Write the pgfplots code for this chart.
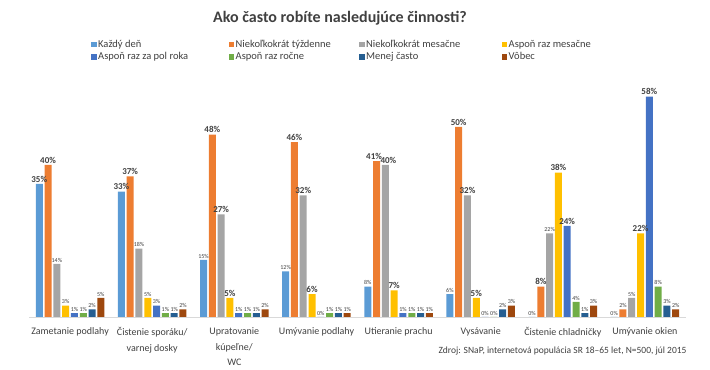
\documentclass[border=0pt]{standalone}
\usepackage{pgfplots}
\pgfplotsset{compat=1.18}
\usepackage{pgfplotstable}
\usepackage{fontspec}
\setmainfont{Carlito}
\definecolor{c1}{HTML}{5B9BD5}
\definecolor{c2}{HTML}{ED7D31}
\definecolor{c3}{HTML}{A5A5A5}
\definecolor{c4}{HTML}{FFC000}
\definecolor{c5}{HTML}{4472C4}
\definecolor{c6}{HTML}{70AD47}
\definecolor{c7}{HTML}{255E91}
\definecolor{c8}{HTML}{9E480E}
\definecolor{lbl}{HTML}{404040}
\pgfplotstableread{
x a fa b fb c fc d fd e fe f ff g fg h fh sb sc
0 35 1 40 1 14 0 3 0 1 0 1 0 2 0 5 0 0 0
1 33 1 37 1 18 0 5 0 3 0 1 0 1 0 2 0 0 0
2 15 0 48 1 27 1 5 1 1 0 1 0 1 0 2 0 0 0
3 12 0 46 1 32 1 6 1 0 0 1 0 1 0 1 0 0 0
4 8 0 41 1 40 1 7 1 1 0 1 0 1 0 1 0 -2.5 3
5 6 0 50 1 32 1 5 1 0 0 0 0 2 0 3 0 0 0
6 0 0 8 1 22 0 38 1 24 1 4 0 1 0 3 0 0 0
7 0 0 2 0 5 0 22 1 58 1 8 0 3 0 2 0 0 0
}\data
\begin{document}
\begin{tikzpicture}
\path (0,0) rectangle (710pt,366pt);
\node[font=\bfseries\fontsize{16}{18}\selectfont, text=lbl] at (340pt,348pt) {Ako často robíte nasledujúce činnosti?};
\node[font=\fontsize{9.5}{11}\selectfont, text=lbl, anchor=east] at (690pt,15pt) {Zdroj: SNaP, internetová populácia SR 18–65 let, N=500, júl 2015};
\begin{axis}[
  at={(29pt,49pt)}, anchor=south west,
  scale only axis, width=657pt, height=228pt,
  xmin=-0.5, xmax=7.5, ymin=0, ymax=60,
  ybar=1.8pt, bar width=7pt,
  clip=false,
  axis y line=none,
  axis x line*=bottom,
  x axis line style={-, draw=black!15},
  xtick=data,
  xtick style={draw=none},
  xticklabels={Zametanie podlahy, {Čistenie sporáku/\\varnej dosky}, {Upratovanie\\kúpeľne/\\WC}, Umývanie podlahy, Utieranie prachu, Vysávanie, Čistenie chladničky, Umývanie okien},
  xticklabel style={align=center, font=\fontsize{10}{15.5}\selectfont, text=lbl, yshift=-3pt},
  /pgf/number format/assume math mode=true,
  nodes near coords={\pgfmathprintnumber{\pgfplotspointmeta}\%},
  every node near coord/.append style={font=\ifdim\lsz pt>0.5pt\bfseries\fontsize{9}{10}\selectfont\else\fontsize{6}{7}\selectfont\fi, text=lbl, inner sep=1.5pt},
  legend columns=4,
  legend cell align=left,
  legend style={draw=none, at={(0.0898,1.2325)}, anchor=north west, font=\fontsize{10.5}{12}\selectfont, text=lbl,
    nodes={inner sep=1.5pt, text height=7.5pt, text depth=2pt}, /tikz/every even column/.append style={column sep=0pt}},
  legend image code/.code={\fill[#1,draw=none] (0pt,-2.6pt) rectangle (5.5pt,2.9pt);},
]
\addplot[fill=c1, draw=none, visualization depends on={\thisrow{fa}\as\lsz}] table[x=x,y=a]{\data};
\addlegendentry{\makebox[129pt][l]{Každý deň}}
\addplot[fill=c2, draw=none, visualization depends on={\thisrow{fb}\as\lsz}, visualization depends on={\thisrow{sb}\as\lsh}, every node near coord/.append style={xshift=\lsh pt}] table[x=x,y=b]{\data};
\addlegendentry{\makebox[122pt][l]{Niekoľkokrát týždenne}}
\addplot[fill=c3, draw=none, visualization depends on={\thisrow{fc}\as\lsz}, visualization depends on={\thisrow{sc}\as\lsh}, every node near coord/.append style={xshift=\lsh pt}] table[x=x,y=c]{\data};
\addlegendentry{\makebox[134pt][l]{Niekoľkokrát mesačne}}
\addplot[fill=c4, draw=none, visualization depends on={\thisrow{fd}\as\lsz}] table[x=x,y=d]{\data};
\addlegendentry{Aspoň raz mesačne}
\addplot[fill=c5, draw=none, visualization depends on={\thisrow{fe}\as\lsz}] table[x=x,y=e]{\data};
\addlegendentry{\makebox[129pt][l]{Aspoň raz za pol roka}}
\addplot[fill=c6, draw=none, visualization depends on={\thisrow{ff}\as\lsz}] table[x=x,y=f]{\data};
\addlegendentry{\makebox[122pt][l]{Aspoň raz ročne}}
\addplot[fill=c7, draw=none, visualization depends on={\thisrow{fg}\as\lsz}] table[x=x,y=g]{\data};
\addlegendentry{\makebox[134pt][l]{Menej často}}
\addplot[fill=c8, draw=none, visualization depends on={\thisrow{fh}\as\lsz}] table[x=x,y=h]{\data};
\addlegendentry{Vôbec}
\end{axis}
\end{tikzpicture}
\end{document}
